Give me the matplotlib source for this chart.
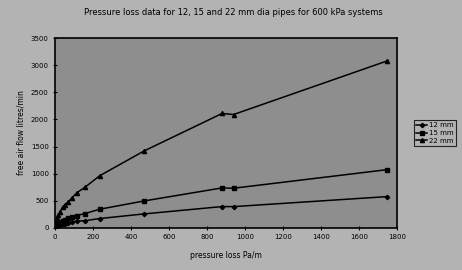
import numpy as np
import matplotlib.pyplot as plt

# pressure loss Pa/m
pressure = [0, 5, 10, 18, 27, 40, 53, 70, 91, 114, 158, 235, 470, 880, 940, 1750]
# free air flow litres/min
flow_12 = [0, 22, 33, 45, 56, 68, 80, 95, 108, 122, 133, 172, 258, 393, 392, 577]
flow_15 = [0, 42, 62, 85, 106, 128, 150, 178, 200, 228, 264, 344, 497, 737, 731, 1074]
flow_22 = [0, 120, 180, 240, 300, 381, 424, 484, 558, 645, 749, 960, 1420, 2110, 2090, 3080]

fig_bg = "#b3b3b3"
ax_bg = "#8e8e8e"

fig = plt.figure(figsize=(4.62, 2.70), dpi=100, facecolor=fig_bg)
ax = fig.add_axes([0.119, 0.156, 0.740, 0.703], facecolor=ax_bg)

ax.plot(pressure, flow_12, color="black", lw=1.1, marker="D", ms=2.2, label="12 mm")
ax.plot(pressure, flow_15, color="black", lw=1.1, marker="s", ms=2.8, label="15 mm")
ax.plot(pressure, flow_22, color="black", lw=1.1, marker="^", ms=3, label="22 mm")

ax.set_xlim(0, 1800)
ax.set_ylim(0, 3500)
ax.set_xticks(np.arange(0, 1801, 200))
ax.set_yticks(np.arange(0, 3501, 500))
ax.tick_params(labelsize=5, length=3, width=0.8, direction="inout", pad=3)
for s in ax.spines.values():
    s.set_linewidth(1.2)

ax.set_xlabel("pressure loss Pa/m", fontsize=5.5, labelpad=8)
ax.set_ylabel("free air flow litres/min", fontsize=5.5, labelpad=4)
fig.text(0.505, 0.955, "Pressure loss data for 12, 15 and 22 mm dia pipes for 600 kPa systems",
         fontsize=6, ha="center", va="center")

leg = ax.legend(loc="center left", bbox_to_anchor=(1.04, 0.5), fontsize=5,
                frameon=True, fancybox=False, edgecolor="black", facecolor=fig_bg,
                handlelength=1.6, borderpad=0.3, labelspacing=0.25, handletextpad=0.3)
leg.get_frame().set_linewidth(0.8)

fig.savefig("out.png", dpi=100, facecolor=fig_bg)
